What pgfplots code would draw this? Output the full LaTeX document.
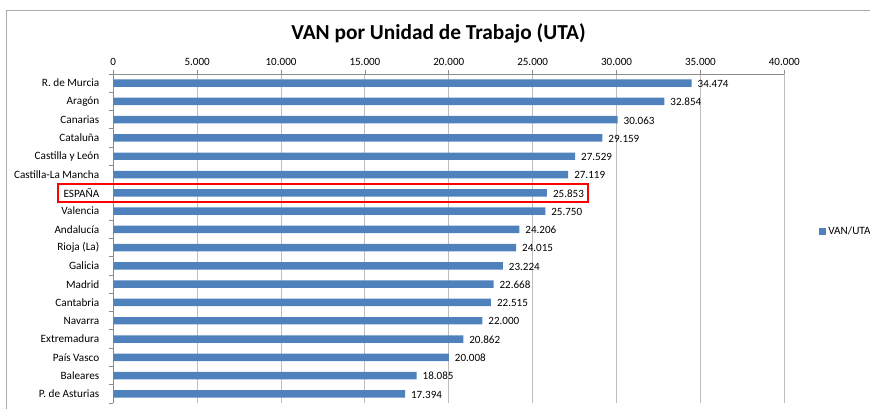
\documentclass[border=0pt]{standalone}
\usepackage{pgfplots}
\pgfplotsset{compat=1.18}
\usetikzlibrary{calc}
\usepackage{fontspec}
\setmainfont{Carlito}
\definecolor{barblue}{HTML}{4F81BD}
\definecolor{gridgray}{HTML}{BEBEBE}
\definecolor{axisgray}{HTML}{8C8C8C}
\begin{document}
\begin{tikzpicture}[x=0.75pt,y=0.75pt]
\begin{axis}[
  name=ax, scale only axis,
  width=503.25pt, height=246.75pt,
  xbar, bar width=5.6pt,
  xmin=0, xmax=40000,
  ymin=-0.5, ymax=17.5, y dir=reverse,
  axis x line=top, axis y line=left,
  axis line style={-, draw=axisgray, line width=0.6pt},
  xtick={0,5000,...,40000},
  xmajorgrids, major grid style={draw=gridgray, line width=0.75pt},
  tick align=outside,
  major tick length=3pt, minor tick length=3pt,
  tick style={draw=axisgray, line width=0.6pt},
  ytick={0,1,...,17},
  yticklabels={R. de Murcia,Aragón,Canarias,Cataluña,Castilla y León,Castilla-La Mancha,ESPAÑA,Valencia,Andalucía,Rioja (La),Galicia,Madrid,Cantabria,Navarra,Extremadura,País Vasco,Baleares,P. de Asturias},
  minor ytick={-0.5,0.5,...,17.5},
  major y tick style={draw=none},
  yticklabel style={font=\fontsize{8.4}{10}\selectfont, xshift=-4pt},
  xticklabel style={font=\fontsize{8.3}{10}\selectfont},
  /pgf/number format/.cd, fixed, precision=0, 1000 sep={.}, assume math mode=true,
  /pgfplots/.cd,
  scaled x ticks=false,
  nodes near coords,
  every node near coord/.append style={font=\fontsize{8.3}{10}\selectfont, color=black, xshift=1pt, yshift=-0.5pt},
  legend style={at={(1.051,0.52)}, anchor=west, draw=none, inner sep=0pt, font=\fontsize{8.4}{10}\selectfont, legend cell align=left},
  legend image code/.code={\fill[barblue] (0pt,-2.6pt) rectangle (5.2pt,2.6pt);},
  clip=false,
]
\addplot[fill=barblue, draw=none] coordinates {
(34474,0) (32854,1) (30063,2) (29159,3) (27529,4) (27119,5) (25853,6) (25750,7) (24206,8)
(24015,9) (23224,10) (22668,11) (22515,12) (22000,13) (20862,14) (20008,15) (18085,16) (17394,17)
};
\addlegendentry{VAN/UTA}
\draw[red, line width=1.5pt] (axis cs:-3300,5.53) rectangle (axis cs:28290,6.5);
\coordinate (BL) at (axis cs:0,17.5);
\end{axis}
\pgfresetboundingbox
\begin{scope}[shift={($(BL)-(113.3,6)$)}]
\useasboundingbox (0,0) rectangle (870,409);
\draw[color=gridgray!90!black, line width=0.75pt] (7,-20) -- (7,398.5) -- (890,398.5);
\node[font=\fontsize{16}{19}\bfseries\selectfont, anchor=base] at (438.5,369) {VAN por Unidad de Trabajo (UTA)};
\end{scope}
\end{tikzpicture}
\end{document}
